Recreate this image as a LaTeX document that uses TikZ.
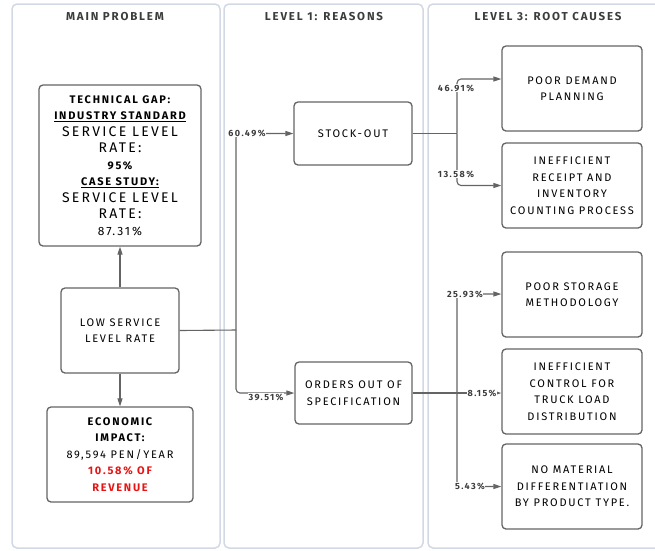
\documentclass[tikz,border=0pt]{standalone}
\usepackage{fontspec}
\setmainfont[LetterSpace=16]{Fira Sans}
\usetikzlibrary{arrows.meta}
\definecolor{lanegray}{RGB}{210,217,228}
\definecolor{boxgray}{RGB}{100,100,100}
\definecolor{headgray}{RGB}{60,60,60}
\definecolor{impactred}{RGB}{232,20,20}

\begin{document}
\begin{tikzpicture}[x=1pt,y=-1pt,
    lane/.style={draw=lanegray, line width=1.5pt, rounded corners=5pt},
    head/.style={font=\bfseries\fontsize{11.5}{12}\selectfont, text=headgray},
    box/.style={draw=boxgray, line width=1.3pt, rounded corners=4pt, fill=white,
        align=center, inner sep=0pt, font=\fontsize{11}{16.5}\selectfont},
    conn/.style={draw=boxgray, line width=1.1pt, rounded corners=4pt},
    arr/.style={conn, -{Triangle[length=8pt,width=5pt]}},
    pct/.style={fill=white, inner sep=0.5pt, text=headgray, font=\bfseries\fontsize{9}{10}\selectfont}]
    \useasboundingbox (0,0) rectangle (655,550);
    \begin{scope}
        \clip (0,0) rectangle (655,550);
        \draw[lane] (12,4) rectangle (220,548);
        \draw[lane] (224,4) rectangle (423,548);
        \draw[lane] (428,4) rectangle (680,548);
    \end{scope}
    \node[head] (hmain) at (115,17) {MAIN PROBLEM};
    \node[head] (hlevel) at (324,17) {LEVEL 1: REASONS};
    \node[head] (hroot) at (548,17) {LEVEL 3: ROOT CAUSES};

    \node[box, minimum width=162pt, minimum height=161pt] (gap) at (120,165.5) {%
        \bfseries TECHNICAL GAP:\\
        \bfseries\underline{INDUSTRY STANDARD}\\
        {\fontsize{14}{16.5}\selectfont SERVICE LEVEL}\\
        {\fontsize{14}{16.5}\selectfont RATE:}\\
        \bfseries 95\%\\
        \bfseries\underline{CASE STUDY:}\\
        {\fontsize{14}{16.5}\selectfont SERVICE LEVEL}\\
        {\fontsize{14}{16.5}\selectfont RATE:}\\
        {\fontsize{12}{16.5}\selectfont 87.31\%}};
    \node[box, minimum width=118pt, minimum height=85pt] (low) at (120,330.5) {LOW SERVICE\\LEVEL RATE};
    \node[box, minimum width=146pt, minimum height=95pt] (econ) at (120,454.5) {%
        \bfseries ECONOMIC\\\bfseries IMPACT:\\89,594 PEN/YEAR\\
        \textcolor{impactred}{\bfseries 10.58\% OF}\\\textcolor{impactred}{\bfseries REVENUE}};

    \node[box, minimum width=118pt, minimum height=63pt] (stock) at (353,133.5) {STOCK-OUT};
    \node[box, minimum width=117pt, minimum height=62pt] (orders) at (353.5,393) {ORDERS OUT OF\\SPECIFICATION};

    \node[box, minimum width=140pt, minimum height=85pt] (demand) at (572,88.5) {POOR DEMAND\\PLANNING};
    \node[box, minimum width=140pt, minimum height=85pt] (receipt) at (572,185.5) {INEFFICIENT\\RECEIPT AND\\INVENTORY\\COUNTING PROCESS};
    \node[box, minimum width=140pt, minimum height=85pt] (storage) at (572,294.5) {POOR STORAGE\\METHODOLOGY};
    \node[box, minimum width=140pt, minimum height=85pt] (truck) at (572,391.5) {INEFFICIENT\\CONTROL FOR\\TRUCK LOAD\\DISTRIBUTION};
    \node[box, minimum width=140pt, minimum height=85pt] (material) at (572,486.5) {NO MATERIAL\\DIFFERENTIATION\\BY PRODUCT TYPE.};

    \coordinate (split) at (236,330);
    \coordinate (split2) at (457,133.5);
    \coordinate (split3) at (457,393);

    \draw[arr] (low.north) -- (gap.south);
    \draw[arr] (low.south) -- (econ.north);

    \draw[conn] (low.east) -- (split);
    \draw[arr] (split) |- (stock.west);
    \draw[arr] (split) |- (orders.west);
    \node[pct] (p1) at (247,133.5) {60.49\%};
    \node[pct] (p2) at (266,397) {39.51\%};

    \draw[conn] (stock.east) -- (split2);
    \draw[arr] (split2) |- (demand.west |- 0,79);
    \draw[arr] (split2) |- (receipt.west);
    \node[pct] (p3) at (456,88) {46.91\%};
    \node[pct] (p4) at (456,174) {13.58\%};

    \draw[conn] (orders.east) -- (split3);
    \draw[arr] (split3) |- (storage.west |- 0,294);
    \draw[arr] (split3) -- (truck.west |- split3);
    \draw[arr] (split3) |- (material.west);
    \node[pct] (p5) at (465,294) {25.93\%};
    \node[pct] (p6) at (482,393) {8.15\%};
    \node[pct] (p7) at (470,486) {5.43\%};
\end{tikzpicture}
\end{document}
